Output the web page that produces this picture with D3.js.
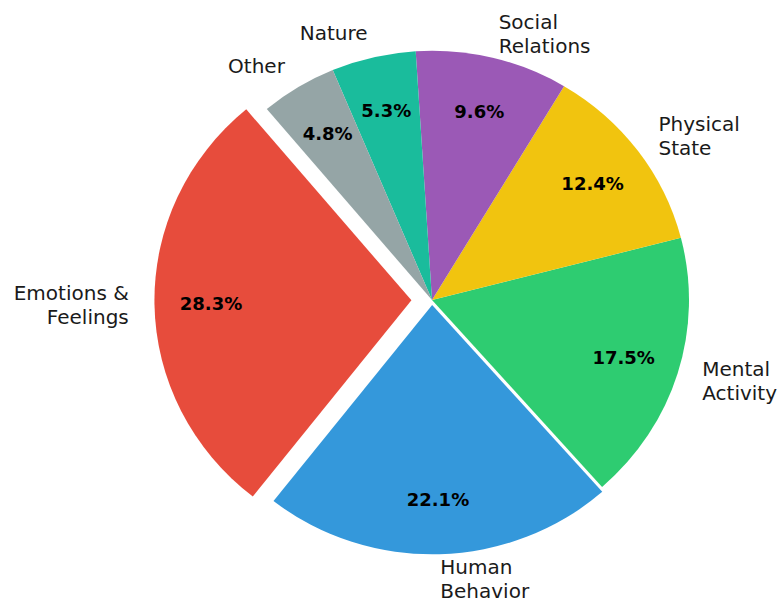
<!DOCTYPE html>
<html>
<head>
<meta charset="utf-8">
<script src="https://cdn.jsdelivr.net/npm/d3@7"></script>
<style>
  html, body { margin: 0; padding: 0; background: #ffffff; }
  svg { display: block; }
</style>
</head>
<body>
<svg id="chart" width="782" height="599"></svg>
<script>
// ---- data ----
const categories = ["Emotions & Feelings", "Human Behavior", "Mental Activity", "Physical State", "Social Relations", "Nature", "Other"];
const labelLines = [["Emotions &", "Feelings"], ["Human", "Behavior"], ["Mental", "Activity"], ["Physical", "State"], ["Social", "Relations"], ["Nature"], ["Other"]];
const shares = [28.3, 22.1, 17.5, 12.4, 9.6, 5.3, 4.8];
const colors = ["#e74c3c", "#3498db", "#2ecc71", "#f1c40f", "#9b59b6", "#1abc9c", "#95a5a6"];

// ---- layout / style ----
const W = 782, H = 599;
const cx = 432, cy = 300;
const R = 257;
const sy = 0.97;               // slight vertical squash seen in the reference
const startAngleDeg = 130;     // counter-clockwise from 3 o'clock
const explode = {"Emotions & Feelings": 0.08, "Human Behavior": 0.02};
const pctDistance = 0.78, labelDistance = 1.1;

const svg = d3.select("#chart");

const rad = Math.PI / 180;
const a0 = (90 - startAngleDeg) * rad;
const pie = d3.pie().sort(null).value(d => d.v)
  .startAngle(a0).endAngle(a0 - 2 * Math.PI);

const data = categories.map((c, i) => ({c, v: shares[i], col: colors[i], lines: labelLines[i]}));
const arcs = pie(data);
const arcGen = d3.arc().innerRadius(0).outerRadius(R);

function pt(a, d) { return [Math.sin(a) * d, -Math.cos(a) * d]; }

const g = svg.append("g").attr("transform", `translate(${cx},${cy}) scale(1,${sy})`);

arcs.forEach(a => {
  const mid = (a.startAngle + a.endAngle) / 2;
  const off = (explode[a.data.c] || 0) * R;
  const [ox, oy] = pt(mid, off);
  g.append("path")
    .attr("d", arcGen(a))
    .attr("fill", a.data.col)
    .attr("transform", `translate(${ox},${oy})`);
});

// texts (not scaled)
const tg = svg.append("g");
const lineH = 24;
arcs.forEach(a => {
  const mid = (a.startAngle + a.endAngle) / 2;
  const off = (explode[a.data.c] || 0) * R;
  const [ox, oy] = pt(mid, off);
  // percentage
  const [px, py] = pt(mid, R * pctDistance);
  tg.append("text")
    .attr("x", cx + ox + px)
    .attr("y", cy + (oy + py) * sy)
    .attr("text-anchor", "middle")
    .attr("dy", "0.36em")
    .style("font-family", "DejaVu Sans, sans-serif")
    .style("font-size", "18px")
    .style("font-weight", "bold")
    .attr("fill", "#000")
    .text(d3.format(".1f")(a.data.v) + "%");
  // category label
  const [lx, ly] = pt(mid, R * labelDistance);
  const x = cx + ox + lx;
  const y = cy + (oy + ly) * sy;
  const anchor = lx > 0 ? "start" : "end";
  const n = a.data.lines.length;
  const t = tg.append("text")
    .attr("text-anchor", anchor)
    .style("font-family", "DejaVu Sans, sans-serif")
    .style("font-size", "20px")
    .attr("fill", "#1a1a1a");
  a.data.lines.forEach((ln, i) => {
    t.append("tspan")
      .attr("x", x)
      .attr("y", y + (i - (n - 1) / 2) * lineH)
      .attr("dy", "0.36em")
      .text(ln);
  });
});
</script>
</body>
</html>
